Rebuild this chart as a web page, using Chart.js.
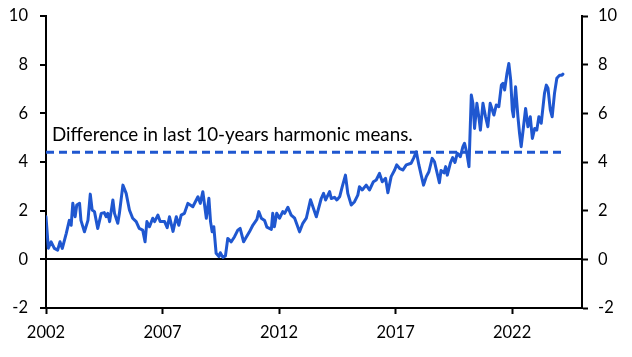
<!DOCTYPE html>
<html>
<head>
<meta charset="utf-8">
<script src="https://cdn.jsdelivr.net/npm/chart.js@4/dist/chart.umd.min.js"></script>
<style>
html,body{margin:0;padding:0;background:#fff;}
#wrap{width:632px;height:357px;position:relative;}
</style>
</head>
<body>
<div id="wrap"><canvas id="c" width="632" height="357"></canvas></div>
<script>
const years = [
2002.0,2002.1,2002.22,2002.36,2002.5,2002.6,2002.7,2002.87,2003.0,2003.08,2003.15,2003.25,2003.32,2003.44,2003.5,2003.65,2003.8,2003.9,2003.98,
2004.08,2004.22,2004.37,2004.5,2004.58,2004.65,2004.73,2004.87,2004.94,2005.08,2005.15,2005.3,2005.44,2005.58,2005.72,2005.87,
2006.0,2006.15,2006.25,2006.33,2006.44,2006.58,2006.66,2006.8,2006.9,2007.09,2007.2,2007.3,2007.45,2007.59,2007.7,2007.8,2007.94,
2008.09,2008.3,2008.52,2008.62,2008.73,2008.88,2008.99,2009.06,2009.13,2009.2,2009.3,2009.42,2009.48,2009.59,2009.7,2009.8,2009.95,
2010.09,2010.23,2010.33,2010.48,2010.56,2010.73,2010.88,2011.05,2011.13,2011.24,2011.38,2011.48,2011.67,2011.73,2011.8,2011.9,
2012.02,2012.16,2012.24,2012.38,2012.52,2012.67,2012.88,2013.02,2013.17,2013.35,2013.6,2013.81,2013.91,2014.0,2014.17,2014.24,
2014.38,2014.48,2014.6,2014.71,2014.85,2014.95,2015.1,2015.24,2015.38,2015.45,2015.57,2015.74,2015.88,2016.05,2016.17,2016.31,
2016.43,2016.57,2016.67,2016.81,2016.96,2017.05,2017.17,2017.31,2017.46,2017.67,2017.77,2017.89,2018.0,2018.1,2018.2,2018.32,
2018.43,2018.57,2018.67,2018.77,2018.88,2018.95,2019.08,2019.15,2019.22,2019.36,2019.45,2019.55,2019.65,2019.78,2019.89,2019.96,
2020.06,2020.15,2020.25,2020.32,2020.39,2020.49,2020.58,2020.64,2020.75,2020.86,2020.96,2021.06,2021.13,2021.22,2021.32,2021.43,
2021.54,2021.61,2021.68,2021.78,2021.86,2021.94,2022.01,2022.06,2022.15,2022.25,2022.32,2022.39,2022.49,2022.58,2022.68,2022.78,
2022.87,2022.97,2023.06,2023.15,2023.25,2023.39,2023.47,2023.54,2023.64,2023.72,2023.82,2023.92,2024.04,2024.14,2024.18
];
const values = [
1.75,0.46,0.72,0.45,0.38,0.72,0.45,1.07,1.6,1.4,2.3,1.75,2.23,2.3,1.6,1.13,1.6,2.68,2.03,
1.96,1.27,1.89,1.92,1.75,1.89,1.55,2.44,1.89,1.48,1.89,3.05,2.71,2.03,1.69,1.55,
1.27,1.2,0.72,1.55,1.34,1.69,1.55,1.82,1.55,1.55,1.3,1.75,1.15,1.75,1.4,1.82,1.89,
2.3,2.16,2.57,2.3,2.78,1.69,2.51,1.55,1.13,1.34,0.25,0.11,0.27,0.08,0.14,0.86,0.72,
0.93,1.2,1.27,0.72,0.86,1.13,1.41,1.64,1.96,1.69,1.6,1.32,1.23,1.89,1.34,1.89,
1.69,1.96,1.89,2.14,1.82,1.69,1.13,1.48,1.69,2.45,1.75,2.5,2.71,2.44,2.78,2.5,
2.55,2.44,2.57,2.98,3.46,2.71,2.23,2.37,2.64,2.98,2.85,3.05,2.85,3.19,3.26,3.53,
3.19,3.33,2.74,3.4,3.67,3.88,3.74,3.67,3.88,3.95,4.15,4.42,3.88,3.46,3.05,3.4,
3.6,4.15,4.01,3.6,3.15,3.65,3.55,3.81,3.46,3.98,4.18,3.98,4.36,4.22,4.63,4.77,
4.36,3.81,6.75,6.41,5.38,6.41,5.8,5.31,6.41,5.86,5.45,6.41,6.2,5.93,6.34,6.27,
7.16,7.23,6.96,7.64,8.05,7.37,6.14,5.86,7.09,5.86,5.18,4.63,5.45,6.2,5.45,5.86,
4.97,5.38,5.31,5.86,5.59,6.82,7.16,7.03,6.14,5.86,6.82,7.44,7.57,7.57,7.61
];
const meanLevel = 4.4;
const meanRange = [2002.0, 2024.18];
const xTickLabels = [2002, 2007, 2012, 2017, 2022];
const yTickValues = [-2, 0, 2, 4, 6, 8, 10];
const annotationText = 'Difference in last 10-years harmonic means.';

const BLUE = '#1f57d0';
const FONT = {family: 'Lato', size: 16.5};

const annotate = {
  id: 'annotate',
  afterDatasetsDraw(chart) {
    const {ctx, scales} = chart;
    ctx.save();
    ctx.font = '18.8px Lato';
    ctx.fillStyle = '#000';
    ctx.textBaseline = 'alphabetic';
    ctx.fillText(annotationText, scales.x.getPixelForValue(2002) + 6, scales.y.getPixelForValue(meanLevel) - 11.5);
    ctx.restore();
  }
};

new Chart(document.getElementById('c'), {
  type: 'line',
  data: {
    datasets: [
      {
        data: years.map((x, i) => ({x, y: values[i]})),
        borderColor: BLUE, borderWidth: 3, pointRadius: 0, tension: 0,
        borderJoinStyle: 'round', borderCapStyle: 'round', yAxisID: 'y'
      },
      {
        data: meanRange.map(x => ({x, y: meanLevel})),
        borderColor: BLUE, borderWidth: 3, borderDash: [8, 5], pointRadius: 0,
        yAxisID: 'y'
      }
    ]
  },
  options: {
    responsive: false,
    animation: false,
    layout: {padding: {top: 16, left: 0, right: 0, bottom: 0}},
    plugins: {legend: {display: false}, tooltip: {enabled: false}},
    scales: {
      x: {
        type: 'linear', min: 2002, max: 2025, position: 'bottom',
        afterBuildTicks: s => { s.ticks = xTickLabels.map(v => ({value: v})); },
        afterFit: s => { s.height = 49; },
        border: {color: '#000', width: 2},
        grid: {drawOnChartArea: false, drawTicks: true, tickLength: 6, tickColor: '#000', tickWidth: 2},
        ticks: {font: FONT, color: '#000', autoSkip: false, maxRotation: 0, padding: 9, callback: v => String(v)}
      },
      y: {
        min: -2, max: 10, position: 'left',
        afterBuildTicks: s => { s.ticks = yTickValues.map(v => ({value: v})); },
        afterFit: s => { s.width = 46; s.paddingTop = 0; s.paddingBottom = 0; },
        border: {color: '#000', width: 2},
        grid: {
          color: c => (c.tick && c.tick.value === 0) ? '#000' : 'rgba(0,0,0,0)',
          lineWidth: 2, tickLength: 6, tickColor: '#000', tickWidth: 2
        },
        ticks: {font: FONT, color: '#000', padding: 12}
      },
      y2: {
        min: -2, max: 10, position: 'right',
        afterBuildTicks: s => { s.ticks = yTickValues.map(v => ({value: v})); },
        afterFit: s => { s.width = 50; s.paddingTop = 0; s.paddingBottom = 0; },
        border: {color: '#000', width: 2},
        grid: {drawOnChartArea: false, tickLength: 6, tickColor: '#000', tickWidth: 2},
        ticks: {font: FONT, color: '#000', padding: 10}
      }
    }
  },
  plugins: [annotate]
});
</script>
</body>
</html>
